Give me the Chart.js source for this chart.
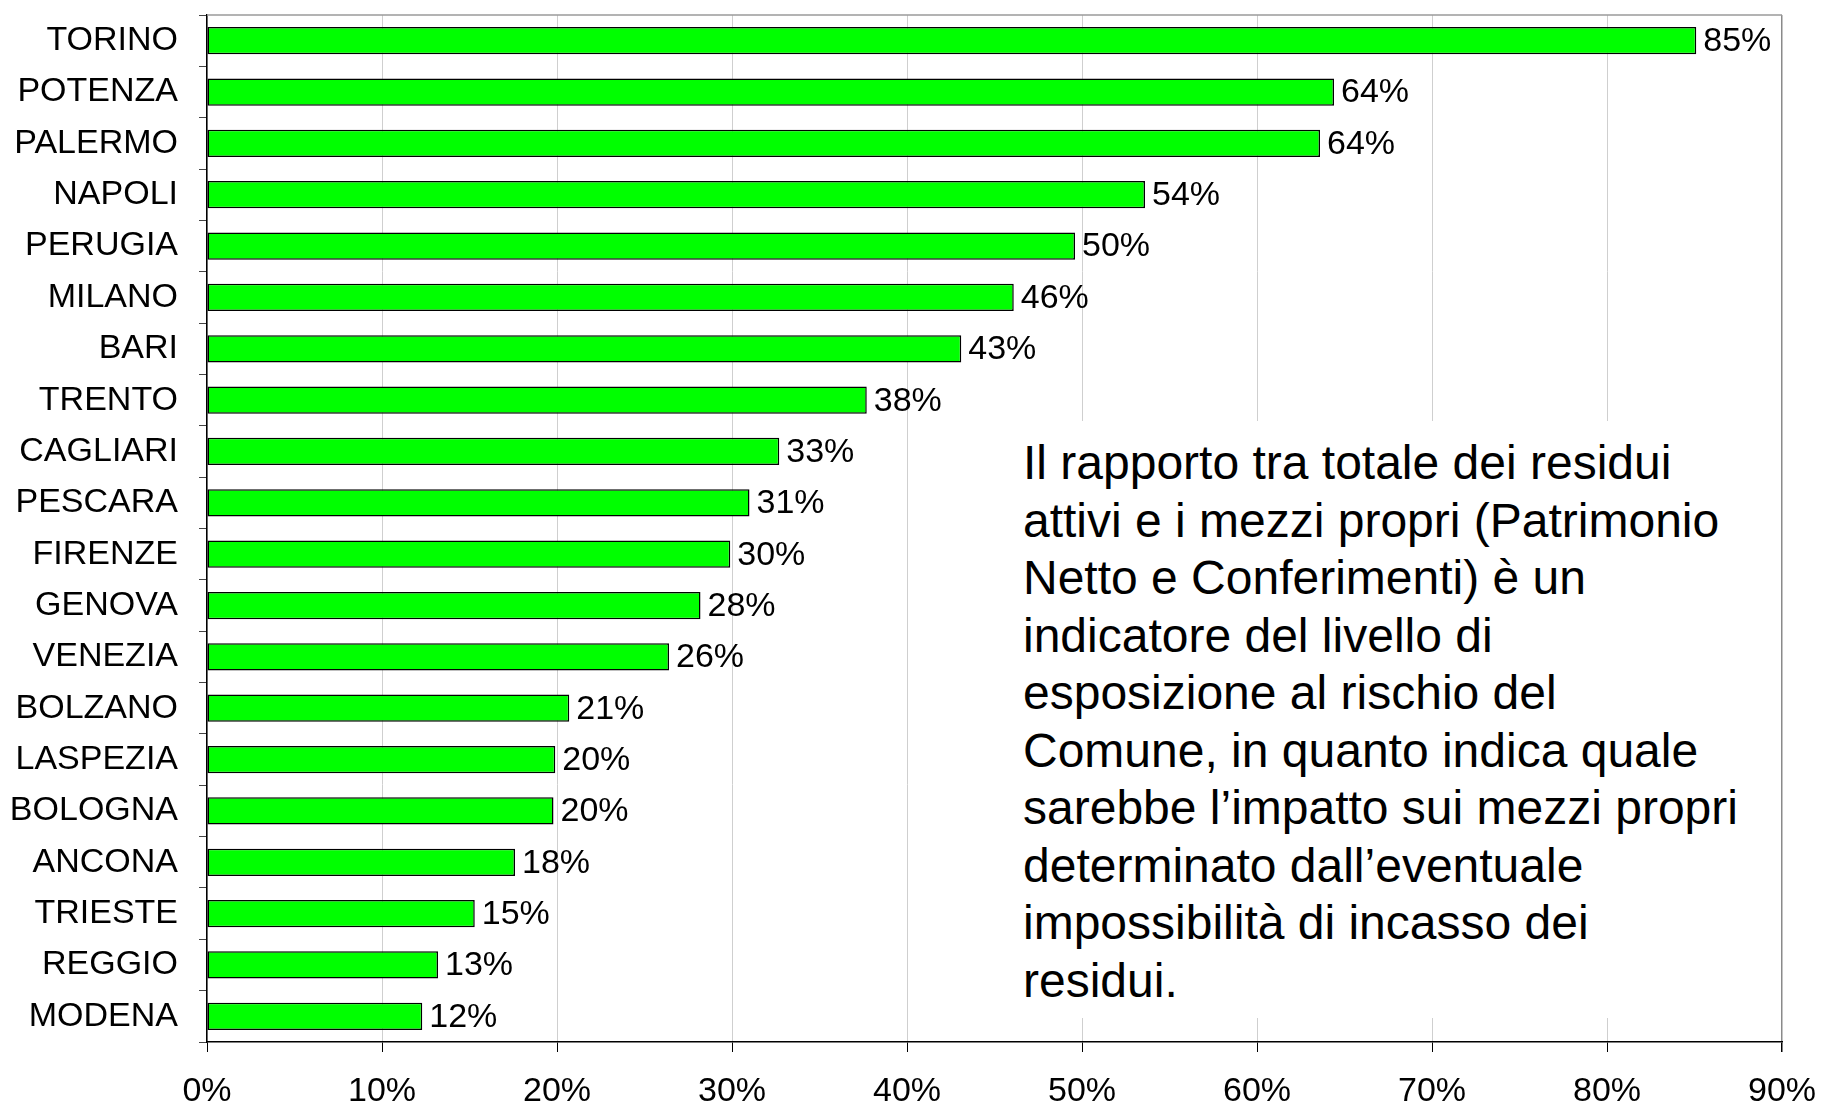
<!DOCTYPE html>
<html>
<head>
<meta charset="utf-8">
<script src="https://cdn.jsdelivr.net/npm/chart.js@4/dist/chart.umd.min.js"></script>
<style>
  body { margin: 0; background: #fff; }
  #wrap { position: relative; width: 1821px; height: 1106px; }
  #note {
    position: absolute;
    left: 1000px; top: 421px;
    width: 770px; height: 597px;
    box-sizing: border-box;
    padding: 13px 0 0 23px;
    background: #fff;
    font-family: "Liberation Sans", Arial, sans-serif;
    font-size: 48px;
    line-height: 57.5px;
    color: #000;
    white-space: nowrap;
  }
</style>
</head>
<body>
<div id="wrap">
  <canvas id="chart" width="1821" height="1106"></canvas>
  <div id="note">Il rapporto tra totale dei residui<br>attivi e i mezzi propri (Patrimonio<br>Netto e Conferimenti) è un<br>indicatore del livello di<br>esposizione al rischio del<br>Comune, in quanto indica quale<br>sarebbe l’impatto sui mezzi propri<br>determinato dall’eventuale<br>impossibilità di incasso dei<br>residui.</div>
</div>
<script>
/* ---------- Data ---------- */

const cities = [
  "TORINO", "POTENZA", "PALERMO", "NAPOLI", "PERUGIA",
  "MILANO", "BARI", "TRENTO", "CAGLIARI", "PESCARA",
  "FIRENZE", "GENOVA", "VENEZIA", "BOLZANO", "LASPEZIA",
  "BOLOGNA", "ANCONA", "TRIESTE", "REGGIO", "MODENA"
];

const ratios = [
  85.1, 64.4, 63.6, 53.6, 49.6,
  46.1, 43.1, 37.7, 32.7, 31.0,
  29.9, 28.2, 26.4, 20.7, 19.9,
  19.8, 17.6, 15.3, 13.2, 12.3
];

const xTicks = [0, 10, 20, 30, 40, 50, 60, 70, 80, 90];

const FONT = "Liberation Sans, Arial, sans-serif";

/* ---------- Plugins ---------- */

// value labels at the end of each bar, plus the grey top border of the plot
const barLabels = {
  id: "barLabels",
  afterDatasetsDraw(chart) {
    const ctx = chart.ctx;
    const meta = chart.getDatasetMeta(0);
    ctx.save();
    ctx.font = "34px " + FONT;
    ctx.fillStyle = "#000";
    ctx.textAlign = "left";
    ctx.textBaseline = "middle";
    meta.data.forEach((bar, i) => {
      ctx.fillText(Math.round(ratios[i]) + "%", bar.x + 7, bar.y + 1);
    });

    const a = chart.chartArea;
    ctx.strokeStyle = "#9a9a9a";
    ctx.lineWidth = 1.5;
    ctx.beginPath();
    ctx.moveTo(a.left, a.top);
    ctx.lineTo(a.right, a.top);
    ctx.stroke();
    ctx.restore();
  }
};

/* ---------- Chart ---------- */

new Chart(document.getElementById("chart"), {
  type: "bar",
  data: {
    labels: cities,
    datasets: [{
      data: ratios,
      backgroundColor: "#00ff00",
      borderColor: "#000",
      borderWidth: 1.5,
      borderSkipped: false,
      barPercentage: 0.53,
      categoryPercentage: 1
    }]
  },
  options: {
    indexAxis: "y",
    responsive: false,
    animation: false,
    layout: { padding: { top: 15, right: 39, left: 0, bottom: 0 } },
    plugins: {
      legend: { display: false },
      tooltip: { enabled: false }
    },
    scales: {
      x: {
        min: 0,
        max: 90,
        afterBuildTicks: scale => {
          scale.ticks = xTicks.map(v => ({ value: v }));
        },
        afterFit: scale => {
          scale.height = 64;
          scale.paddingLeft = 0;
          scale.paddingRight = 0;
        },
        border: { color: "#000", width: 1.5 },
        grid: {
          color: ctx => ctx.tick && ctx.tick.value === 90 ? "#8a8a8a" : "#cfcfcf",
          lineWidth: ctx => ctx.tick && ctx.tick.value === 90 ? 1.5 : 1,
          tickColor: "#000",
          tickLength: 10
        },
        ticks: {
          color: "#000",
          font: { family: FONT, size: 34 },
          padding: 19,
          maxRotation: 0,
          callback: v => v + "%"
        }
      },
      y: {
        afterFit: scale => {
          scale.width = 207;
          scale.paddingTop = 0;
          scale.paddingBottom = 0;
        },
        border: { color: "#000", width: 1.5 },
        grid: {
          drawOnChartArea: false,
          tickColor: "#444",
          tickLength: 8
        },
        ticks: {
          color: "#000",
          font: { family: FONT, size: 34 },
          padding: 21
        }
      }
    }
  },
  plugins: [barLabels]
});
</script>
</body>
</html>
